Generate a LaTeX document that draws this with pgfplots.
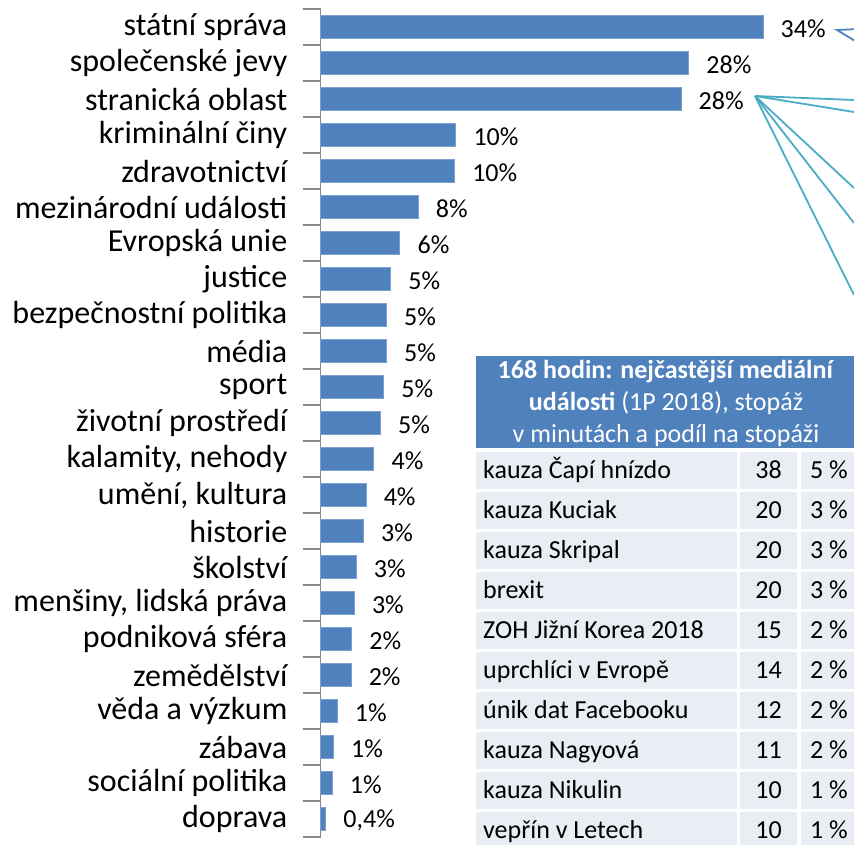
\documentclass[border=0pt]{standalone}
\usepackage{fontspec}
\setmainfont{Carlito}
\usepackage{pgfplots}
\pgfplotsset{compat=1.18}
\definecolor{barblue}{HTML}{4F81BD}
\definecolor{cellbg}{HTML}{E9EDF4}
\definecolor{callteal}{HTML}{4BACC6}
\definecolor{axgray}{HTML}{898989}

\begin{document}
\begin{tikzpicture}
\useasboundingbox (0,0) rectangle (854pt,-845pt);
\begin{axis}[
  at={(320.5pt,-9pt)}, anchor=north west,
  scale only axis, width=533.5pt, height=828pt,
  xbar, bar width=23.5pt,
  xmin=0, xmax=41, ymin=-0.5, ymax=22.5, y dir=reverse,
  axis x line=none, axis y line*=left,
  axis line style={axgray, line width=1.8pt, -},
  ytick={-0.5,0.5,1.5,2.5,3.5,4.5,5.5,6.5,7.5,8.5,9.5,10.5,11.5,12.5,13.5,14.5,
    15.5,16.5,17.5,18.5,19.5,20.5,21.5,22.5},
  yticklabels={},
  major tick length=17pt,
  tick align=outside,
  major tick style={axgray, line width=1.5pt},
  extra y ticks={0,1,2,3,4,5,6,7,8,9,10,11,12,13,14,15,16,17,18,19,20,21,22},
  extra y tick labels={státní správa, společenské jevy, stranická oblast, kriminální činy,
    zdravotnictví, mezinárodní události, Evropská unie, justice,
    bezpečnostní politika, média, sport, životní prostředí, {kalamity, nehody},
    {umění, kultura}, historie, školství, {menšiny, lidská práva},
    podniková sféra, zemědělství, věda a výzkum, zábava, sociální politika, doprava},
  extra y tick style={major tick length=0pt,
    yticklabel style={font=\fontsize{32}{32}\selectfont, inner sep=0pt, xshift=-33pt}},
  clip=false,
  nodes near coords, point meta=explicit symbolic,
  nodes near coords align={horizontal},
  every node near coord/.append style={font=\fontsize{26}{26}\selectfont, black,
    anchor=west, xshift=14pt, yshift=-1.5pt},
]
\addplot[fill=barblue, draw=barblue!75!white, line width=0.8pt] coordinates {
  (34.0,0) [34\%]
  (28.3,1) [28\%]
  (27.7,2) [28\%]
  (10.4,3) [10\%]
  (10.3,4) [10\%]
  (7.5,5) [8\%]
  (6.1,6) [6\%]
  (5.4,7) [5\%]
  (5.07,8) [5\%]
  (5.07,9) [5\%]
  (4.86,10) [5\%]
  (4.6,11) [5\%]
  (4.1,12) [4\%]
  (3.5,13) [4\%]
  (3.3,14) [3\%]
  (2.74,15) [3\%]
  (2.6,16) [3\%]
  (2.4,17) [2\%]
  (2.35,18) [2\%]
  (1.28,19) [1\%]
  (1.0,20) [1\%]
  (0.9,21) [1\%]
  (0.4,22) [0{,}4\%]
};
\end{axis}

% callout lines (cut by the page edge)
\draw[barblue, line width=1.8pt] (860pt,-29pt) -- (837pt,-30pt) -- (860pt,-44pt);
\foreach \ye in {100,112,188,223,295}
  \draw[callteal, line width=1.8pt] (755pt,-96pt) -- (854pt,-\ye pt);

% table
\fill[barblue] (476pt,-356pt) rectangle (858pt,-448pt);
\node[white, anchor=base, font=\fontsize{26}{26}\selectfont] at (666pt,-378pt)
  {\textbf{168 hodin: nejčastější mediální}};
\node[white, anchor=base, font=\fontsize{26}{26}\selectfont] at (666pt,-410.5pt)
  {\textbf{události} (1P 2018), stopáž};
\node[white, anchor=base, font=\fontsize{26}{26}\selectfont] at (666pt,-442pt)
  {v minutách a podíl na stopáži};
\foreach \n/\v/\p [count=\i from 0] in {
  kauza Čapí hnízdo/38/5, kauza Kuciak/20/3, kauza Skripal/20/3, brexit/20/3,
  ZOH Jižní Korea 2018/15/2, uprchlíci v Evropě/14/2, únik dat Facebooku/12/2,
  kauza Nagyová/11/2, kauza Nikulin/10/1, vepřín v Letech/10/1} {
  \pgfmathsetmacro\yt{-452-40*\i}
  \pgfmathsetmacro\yb{\yt-36.7}
  \pgfmathsetmacro\ybase{\yt-26.3}
  \fill[cellbg] (476pt,\yt pt) rectangle (737pt,\yb pt);
  \fill[cellbg] (740pt,\yt pt) rectangle (797pt,\yb pt);
  \fill[cellbg] (800.7pt,\yt pt) rectangle (858pt,\yb pt);
  \node[anchor=base west, inner sep=0pt, font=\fontsize{26}{26}\selectfont] at (483pt,\ybase pt) {\n};
  \node[anchor=base east, inner sep=0pt, font=\fontsize{26}{26}\selectfont] at (782pt,\ybase pt) {\v};
  \node[anchor=base east, inner sep=0pt, font=\fontsize{26}{26}\selectfont] at (848pt,\ybase pt) {\p~\%};
}
\end{tikzpicture}
\end{document}
